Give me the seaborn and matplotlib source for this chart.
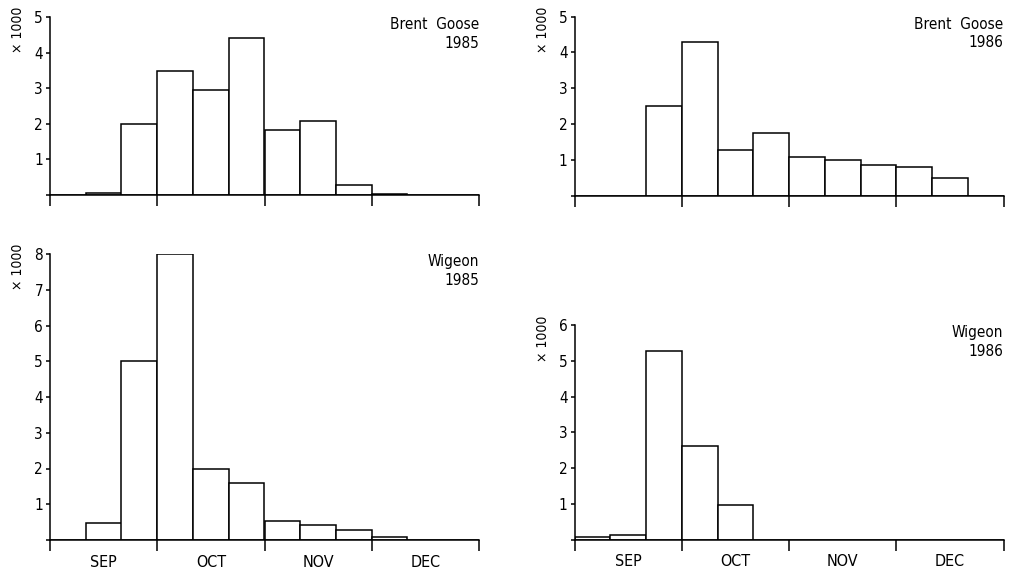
import matplotlib
matplotlib.use("Agg")
import matplotlib.pyplot as plt
from matplotlib import font_manager
import numpy as np
import pandas as pd
import seaborn as sns

# Counts per third-of-month period (thousands), Sep .. Dec
months = ["SEP", "OCT", "NOV", "DEC"]
periods = list(range(12))

brent_1985 = [0, 0.05, 2.0, 3.48, 2.95, 4.42, 1.83, 2.08, 0.29, 0.04, 0, 0]
brent_1986 = [0, 0, 2.5, 4.29, 1.28, 1.75, 1.09, 1.0, 0.85, 0.79, 0.5, 0]
wigeon_1985 = [0, 0.48, 5.0, 8.0, 1.99, 1.6, 0.54, 0.43, 0.27, 0.08, 0, 0]
wigeon_1986 = [0.08, 0.14, 5.28, 2.62, 0.98, 0, 0, 0, 0, 0, 0, 0]

panels = [
    ("Brent  Goose", "1985", brent_1985, 5),
    ("Brent  Goose", "1986", brent_1986, 5),
    ("Wigeon", "1985", wigeon_1985, 8),
    ("Wigeon", "1986", wigeon_1986, 6),
]

sns.set_style("ticks")

# prefer a narrow sans face when one is available
names = {f.name for f in font_manager.fontManager.ttflist}
family = "DejaVu Sans"
stretch = "normal"
if "Liberation Sans Narrow" in names:
    family = "Liberation Sans Narrow"
else:
    for f in font_manager.fontManager.ttflist:
        if f.name == "DejaVu Sans" and f.stretch in ("condensed", 87.5, "semi-condensed"):
            stretch = "condensed"
            break
plt.rcParams["font.family"] = [family, "DejaVu Sans"]
plt.rcParams["font.stretch"] = stretch
for key in ("text.color", "axes.labelcolor", "xtick.color", "ytick.color",
            "axes.edgecolor"):
    plt.rcParams[key] = "black"

W, H = 1014, 569
fig = plt.figure(figsize=(W / 100, H / 100), dpi=100)

# pixel boxes: left, baseline, top
boxes = [
    (50, 195, 17),
    (574.5, 195.5, 16.7),
    (50, 540, 254),
    (574.5, 539.5, 325.3),
]
axw = 429

lw = 1.1
for i, ((name, year, vals, ymax), (lx, base, top)) in enumerate(zip(panels, boxes)):
    ax = fig.add_axes([lx / W, (H - base) / H, axw / W, (base - top) / H])
    df = pd.DataFrame({"period": periods, "count": vals})
    sns.barplot(data=df, x="period", y="count", ax=ax, color="white",
                edgecolor="black", linewidth=lw, width=1.0, saturation=1)
    for p in ax.patches:
        p.set_facecolor("white")
    ax.set_xlim(-0.5, 11.5)
    ax.set_ylim(0, ymax)
    ax.set_xlabel("")
    ax.set_ylabel("")
    sns.despine(ax=ax)
    for s in ("left", "bottom"):
        ax.spines[s].set_linewidth(lw)
        ax.spines[s].set_color("black")

    ax.set_yticks(range(0, ymax + 1))
    ax.set_yticklabels([""] + [str(v) for v in range(1, ymax + 1)])
    ax.tick_params(axis="y", direction="out", length=3, width=lw, pad=2,
                   labelsize=11, colors="black")

    ax.set_xticks([-0.5, 2.5, 5.5, 8.5, 11.5])
    ax.set_xticklabels([])
    ax.tick_params(axis="x", which="major", direction="out", length=8,
                   width=lw, colors="black")
    if i >= 2:
        ax.set_xticks([1, 4, 7, 10], minor=True)
        ax.set_xticklabels(months, minor=True)
        ax.tick_params(axis="x", which="minor", length=0, pad=10.5,
                       labelsize=11.5, colors="black")
    else:
        ax.set_xticks([], minor=True)

    ax.text(1.0, 1.0, f"{name}\n{year}", transform=ax.transAxes,
            ha="right", va="top", fontsize=11, linespacing=1.3,
            color="black")
    ax.annotate("× 1000", xy=(0, 1), xycoords="axes fraction",
                xytext=(-23, -9.5), textcoords="offset points",
                rotation=90, ha="center", va="center", fontsize=10,
                color="black")

fig.savefig("out.png", dpi=100, facecolor="white")
